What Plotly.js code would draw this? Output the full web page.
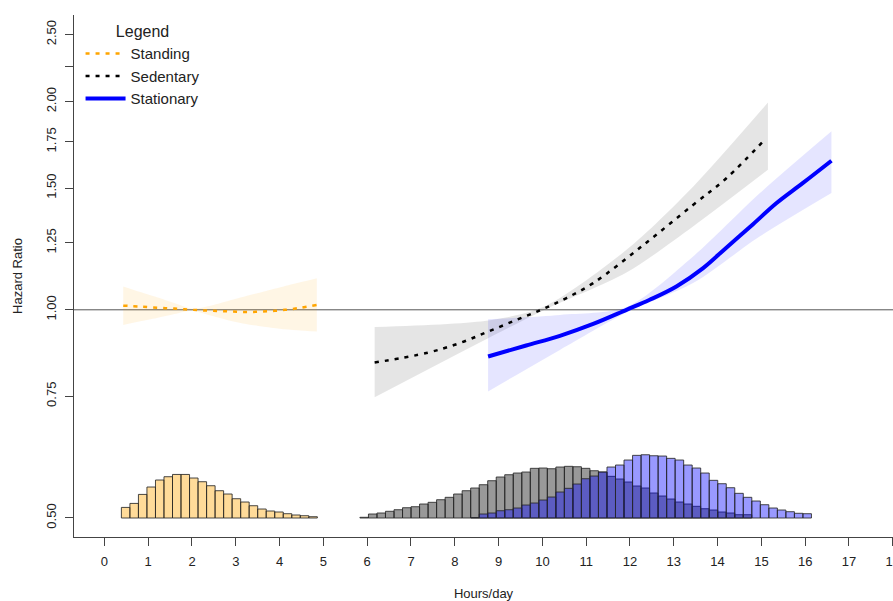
<!DOCTYPE html>
<html>
<head>
<meta charset="utf-8">
<script src="https://cdn.plot.ly/plotly-3.0.1.min.js"></script>
<style>html,body{margin:0;padding:0;background:#fff;}#chart{width:893px;height:601px;}</style>
</head>
<body>
<div id="chart"></div>
<script>
// ---- Curves: hours/day and hazard ratio (with 95% CI) ----
var standingHours = [0.43, 0.8, 1.2, 1.6, 2.0, 2.4, 2.8, 3.2, 3.6, 4.0, 4.4, 4.85];
var standingHR    = [1.014, 1.011, 1.007, 1.004, 1.000, 0.997, 0.995, 0.993, 0.994, 0.998, 1.005, 1.016];
var standingUpper = [1.081, 1.062, 1.043, 1.023, 1.004, 1.013, 1.029, 1.045, 1.061, 1.077, 1.093, 1.111];
var standingLower = [0.951, 0.962, 0.973, 0.986, 0.997, 0.982, 0.967, 0.955, 0.946, 0.939, 0.934, 0.930];

var sedentaryHours = [6.17, 7.35, 8.11, 8.76, 9.41, 10.02, 10.55, 11.16, 12.30, 13.44, 14.20, 15.10];
var sedentaryHR    = [0.839, 0.866, 0.895, 0.930, 0.967, 1.003, 1.040, 1.093, 1.240, 1.418, 1.550, 1.768];
var sedentaryCIHours = [6.17, 8.76, 10.02, 11.92, 13.44, 15.15];
var sedentaryUpper   = [0.944, 0.965, 1.009, 1.221, 1.507, 1.994];
var sedentaryLower   = [0.7475, 0.910, 0.998, 1.132, 1.320, 1.594];

var stationaryHours = [8.76, 9.63, 10.40, 11.16, 11.92, 12.45, 13.06, 13.67, 14.20, 14.81, 15.34, 15.95, 16.60];
var stationaryHR    = [0.856, 0.888, 0.917, 0.954, 1.000, 1.034, 1.081, 1.149, 1.230, 1.330, 1.426, 1.526, 1.643];
var stationaryCIHours = [8.76, 10.40, 11.92, 13.44, 14.96, 16.60];
var stationaryUpper   = [0.969, 0.983, 1.009, 1.194, 1.474, 1.812];
var stationaryLower   = [0.762, 0.875, 0.991, 1.093, 1.276, 1.475];

// ---- Distributions (relative frequency, arbitrary units) ----
var binWidth = 0.1945;           // hours per histogram bin
var standingFirstBin = 0.388;    // left edge of first bin (hours)
var standingFreq = [1.06, 1.46, 2.36, 3.10, 3.80, 4.13, 4.36, 4.36, 4.00, 3.63, 3.23, 2.73, 2.40, 1.93, 1.60, 1.23, 0.90, 0.70, 0.60, 0.43, 0.30, 0.23, 0.13];
var sedentaryFirstBin = 5.834;
var sedentaryFreq = [0.07, 0.40, 0.50, 0.67, 0.83, 1.03, 1.13, 1.40, 1.57, 1.83, 2.07, 2.40, 2.73, 3.00, 3.33, 3.73, 4.10, 4.33, 4.50, 4.60, 4.97, 5.00, 4.93, 5.10, 5.17, 5.13, 4.97, 4.73, 4.60, 4.17, 3.90, 3.60, 3.20, 3.00, 2.50, 2.20, 1.90, 1.60, 1.40, 1.17, 0.93, 0.80, 0.60, 0.50, 0.33, 0.33];
var stationaryFirstBin = 8.363;
var stationaryFreq = [0.05, 0.40, 0.50, 0.73, 0.83, 1.00, 1.30, 1.50, 1.80, 2.10, 2.60, 2.97, 3.40, 3.93, 4.20, 4.60, 5.10, 5.30, 5.80, 6.27, 6.33, 6.23, 6.20, 5.97, 5.80, 5.30, 5.00, 4.50, 3.77, 3.43, 3.03, 2.47, 2.07, 1.70, 1.33, 1.00, 0.80, 0.63, 0.47, 0.43];

var xTicks = [0,1,2,3,4,5,6,7,8,9,10,11,12,13,14,15,16,17,18];
var yTicks = [0.5, 0.75, 1.0, 1.25, 1.5, 1.75, 2.0, 2.25, 2.5];
var yTickText = ['0.50','0.75','1.00','1.25','1.50','1.75','2.00','','2.50'];

function centers(first, n) { var a = []; for (var i = 0; i < n; i++) a.push(first + binWidth * (i + 0.5)); return a; }
// confidence band: upper edge (no fill) followed by lower edge filled up to it
function ribbon(x, lo, hi, color) {
  return [
    { x: x, y: hi, type: 'scatter', mode: 'lines', line: { width: 0, shape: 'spline', smoothing: 0.8 },
      hoverinfo: 'skip', showlegend: false },
    { x: x, y: lo, type: 'scatter', mode: 'lines', fill: 'tonexty', fillcolor: color,
      line: { width: 0, shape: 'spline', smoothing: 0.8 }, hoverinfo: 'skip', showlegend: false }
  ];
}
function hist(first, freq, color) {
  return { x: centers(first, freq.length), y: freq, width: binWidth, type: 'bar',
    marker: { color: color, line: { color: 'rgba(40,40,40,0.85)', width: 1 } },
    showlegend: false, xaxis: 'x', yaxis: 'y2', hoverinfo: 'skip' };
}

var traces = [].concat(
  ribbon(standingHours, standingLower, standingUpper, 'rgba(255,165,0,0.1)'),
  ribbon(sedentaryCIHours, sedentaryLower, sedentaryUpper, 'rgba(0,0,0,0.1)'),
  ribbon(stationaryCIHours, stationaryLower, stationaryUpper, 'rgba(0,0,255,0.1)'),
  [
  { x: standingHours, y: standingHR, type: 'scatter', mode: 'lines', name: 'Standing',
    line: { color: '#FFA500', width: 2.5, dash: '4px,6px', shape: 'spline' } },
  { x: sedentaryHours, y: sedentaryHR, type: 'scatter', mode: 'lines', name: 'Sedentary',
    line: { color: '#000000', width: 2.5, dash: '4px,6px', shape: 'spline' } },
  { x: stationaryHours, y: stationaryHR, type: 'scatter', mode: 'lines', name: 'Stationary',
    line: { color: '#0000FF', width: 4, shape: 'spline' } },
  hist(standingFirstBin, standingFreq, 'rgba(255,165,0,0.4)'),
  hist(sedentaryFirstBin, sedentaryFreq, 'rgba(0,0,0,0.4)'),
  hist(stationaryFirstBin, stationaryFreq, 'rgba(0,0,255,0.4)')
  ]
);

var font = 'Liberation Sans, Arial, Helvetica, sans-serif';
var layout = {
  width: 893, height: 601,
  margin: { l: 74, r: 0, t: 15, b: 64, pad: 0 },
  paper_bgcolor: '#ffffff', plot_bgcolor: '#ffffff',
  font: { family: font, size: 13, color: '#222' },
  barmode: 'overlay', bargap: 0,
  xaxis: {
    range: [-0.694, 18.005], tickvals: xTicks, ticktext: xTicks.map(String),
    showgrid: false, zeroline: false, showline: true, linecolor: '#444', linewidth: 1,
    ticks: 'outside', ticklen: 8, tickcolor: '#444', tickfont: { size: 13, color: '#222' },
    ticklabelstandoff: 4, ticklabeloverflow: 'allow',
    title: { text: 'Hours/day', font: { size: 13, color: '#222' }, standoff: 22 },
    automargin: false
  },
  yaxis: {
    type: 'log', range: [Math.log10(0.4693), Math.log10(2.669)],
    tickvals: yTicks, ticktext: yTickText, tickangle: -90,
    showgrid: false, zeroline: false, showline: true, linecolor: '#444', linewidth: 1,
    ticks: 'outside', ticklen: 8, tickcolor: '#444', tickfont: { size: 13, color: '#222' },
    ticklabelstandoff: 4,
    title: { text: 'Hazard Ratio', font: { size: 13, color: '#222' }, standoff: 18 },
    automargin: false
  },
  yaxis2: { overlaying: 'y', range: [-1.9, 50.33], visible: false, fixedrange: true },
  shapes: [{ type: 'line', xref: 'paper', yref: 'y', x0: 0, x1: 1, y0: 1, y1: 1,
    line: { color: '#555', width: 1 }, layer: 'below' }],
  legend: {
    x: 0.008, y: 0.997, xanchor: 'left', yanchor: 'top', bgcolor: 'rgba(0,0,0,0)',
    font: { size: 15, color: '#222' }, itemwidth: 40,
    title: { text: 'Legend', side: 'top center', font: { size: 16, color: '#222' } },
    traceorder: 'normal'
  },
  showlegend: true
};

Plotly.newPlot('chart', traces, layout, { displayModeBar: false, staticPlot: true });
</script>
</body>
</html>
